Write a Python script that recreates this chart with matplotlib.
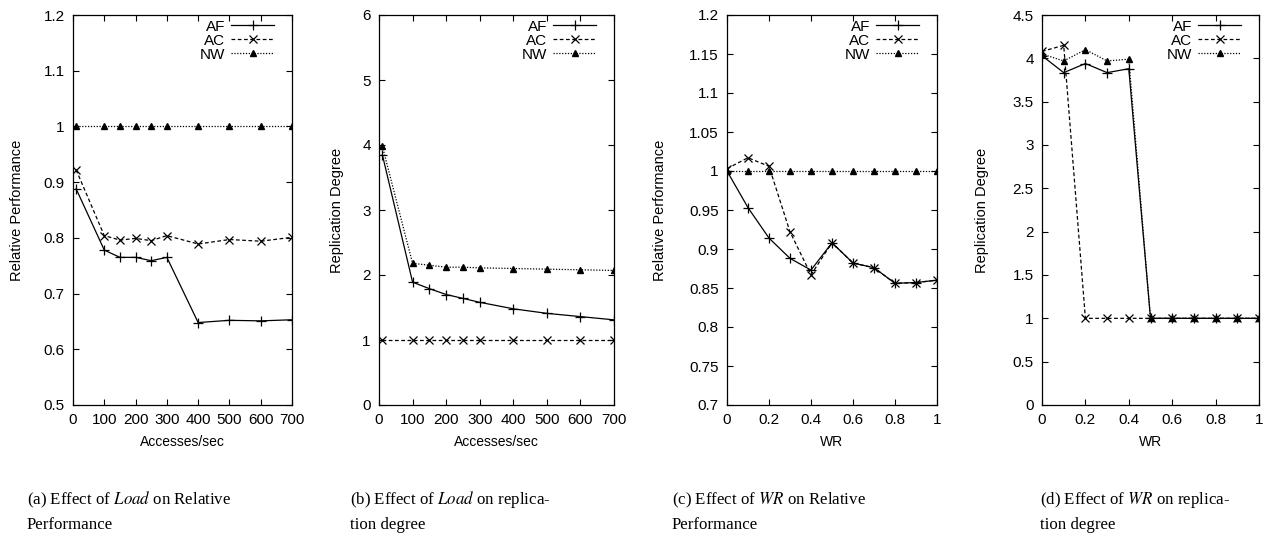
import matplotlib
matplotlib.use("Agg")
import matplotlib.pyplot as plt
from matplotlib.ticker import FuncFormatter

# donnees
load = [10, 100, 150, 200, 250, 300, 400, 500, 600, 700]
wr = [0, 0.1, 0.2, 0.3, 0.4, 0.5, 0.6, 0.7, 0.8, 0.9, 1.0]

perf_load_af = [0.888, 0.778, 0.765, 0.765, 0.759, 0.765, 0.648, 0.652, 0.651, 0.653]
perf_load_ac = [0.922, 0.804, 0.796, 0.799, 0.795, 0.804, 0.789, 0.797, 0.794, 0.801]
perf_load_nw = [1, 1, 1, 1, 1, 1, 1, 1, 1, 1]

rep_load_af = [3.85, 1.89, 1.79, 1.70, 1.64, 1.58, 1.48, 1.41, 1.36, 1.31]
rep_load_ac = [1, 1, 1, 1, 1, 1, 1, 1, 1, 1]
rep_load_nw = [3.98, 2.18, 2.15, 2.12, 2.12, 2.11, 2.10, 2.09, 2.08, 2.07]

perf_wr_af = [1.0, 0.953, 0.914, 0.888, 0.873, 0.908, 0.882, 0.876, 0.856, 0.857, 0.860]
perf_wr_ac = [1.003, 1.017, 1.006, 0.922, 0.867, 0.908, 0.882, 0.876, 0.856, 0.857, 0.860]
perf_wr_nw = [1, 1, 1, 1, 1, 1, 1, 1, 1, 1, 1]

rep_wr_af = [4.03, 3.835, 3.94, 3.835, 3.88, 1, 1, 1, 1, 1, 1]
rep_wr_ac = [4.08, 4.15, 1, 1, 1, 1, 1, 1, 1, 1, 1]
rep_wr_nw = [4.05, 3.97, 4.10, 3.97, 3.99, 1, 1, 1, 1, 1, 1]

captions = [
    ("(a) Effect of $Load$ on Relative", "Performance"),
    ("(b) Effect of $Load$ on replica-", "tion degree"),
    ("(c) Effect of $WR$ on Relative", "Performance"),
    ("(d) Effect of $WR$ on replica-", "tion degree"),
]

plt.rcParams['font.family'] = ['Liberation Sans', 'DejaVu Sans']
plt.rcParams['mathtext.fontset'] = 'stix'

W, H = 1273, 541
fig = plt.figure(figsize=(W / 100, H / 100), dpi=100)

# positions des axes en pixels (gauche, droite)
cols = [(73, 292), (379, 614), (727, 937), (1042, 1259)]
top, bottom = 15, 405
ylab_x = [17, 337, 660, 982]
cap_x = [27, 350, 672, 1040]

panels = [
    (load, perf_load_af, perf_load_ac, perf_load_nw, (0, 700), (0.5, 1.2), 0.1,
     range(0, 701, 100), "Accesses/sec", "Relative Performance"),
    (load, rep_load_af, rep_load_ac, rep_load_nw, (0, 700), (0, 6), 1,
     range(0, 701, 100), "Accesses/sec", "Replication Degree"),
    (wr, perf_wr_af, perf_wr_ac, perf_wr_nw, (0, 1), (0.7, 1.2), 0.05,
     [0, 0.2, 0.4, 0.6, 0.8, 1.0], "WR", "Relative Performance"),
    (wr, rep_wr_af, rep_wr_ac, rep_wr_nw, (0, 1), (0, 4.5), 0.5,
     [0, 0.2, 0.4, 0.6, 0.8, 1.0], "WR", "Replication Degree"),
]

for i, (x, af, ac, nw, xl, yl, ystep, xt, xlab, ylab) in enumerate(panels):
    l, r = cols[i]
    ax = fig.add_axes([l / W, 1 - bottom / H, (r - l) / W, (bottom - top) / H])
    ax.plot(x, af, color='black', lw=0.9, marker='+', ms=7, mew=0.9, label='AF')
    ax.plot(x, ac, color='black', lw=0.9, ls=(0, (3, 2)), marker='x', ms=6, mew=0.9, label='AC')
    ax.plot(x, nw, color='black', lw=0.9, ls=(0, (1, 1.3)), marker='^', ms=4, label='NW')
    ax.set_xlim(xl)
    ax.set_ylim(yl)
    ax.set_xticks(list(xt))
    n = int(round((yl[1] - yl[0]) / ystep))
    ax.set_yticks([yl[0] + k * ystep for k in range(n + 1)])
    ax.xaxis.set_major_formatter(FuncFormatter(lambda v, p: '%g' % round(v, 3)))
    ax.yaxis.set_major_formatter(FuncFormatter(lambda v, p: '%g' % round(v, 3)))
    ax.tick_params(direction='in', top=True, right=True, length=4, width=0.8,
                   labelsize=11, pad=6)
    for s in ax.spines.values():
        s.set_linewidth(0.9)
    ax.set_xlabel(xlab, fontsize=10)
    ax.set_ylabel(ylab, fontsize=10.5)
    ax.xaxis.set_label_coords(0.5, (bottom - 442) / (bottom - top))
    ax.yaxis.set_label_coords((ylab_x[i] - l) / (r - l), 0.5)
    ax.xaxis.label.set_va('center')
    ax.yaxis.label.set_va('center')
    ax.legend(loc='upper right', bbox_to_anchor=(1 - 18 / (r - l), 0.988),
              frameon=False, markerfirst=False, numpoints=1, fontsize=11,
              handlelength=2.8, handletextpad=0.4, labelspacing=0.0,
              borderpad=0, borderaxespad=0)

    fig.text(cap_x[i] / W, 1 - 500 / H, captions[i][0], family='Liberation Serif',
             fontsize=12.2, va='center', ha='left')
    fig.text(cap_x[i] / W, 1 - 525 / H, captions[i][1], family='Liberation Serif',
             fontsize=12.2, va='center', ha='left')

plt.savefig("out.png", dpi=100)
